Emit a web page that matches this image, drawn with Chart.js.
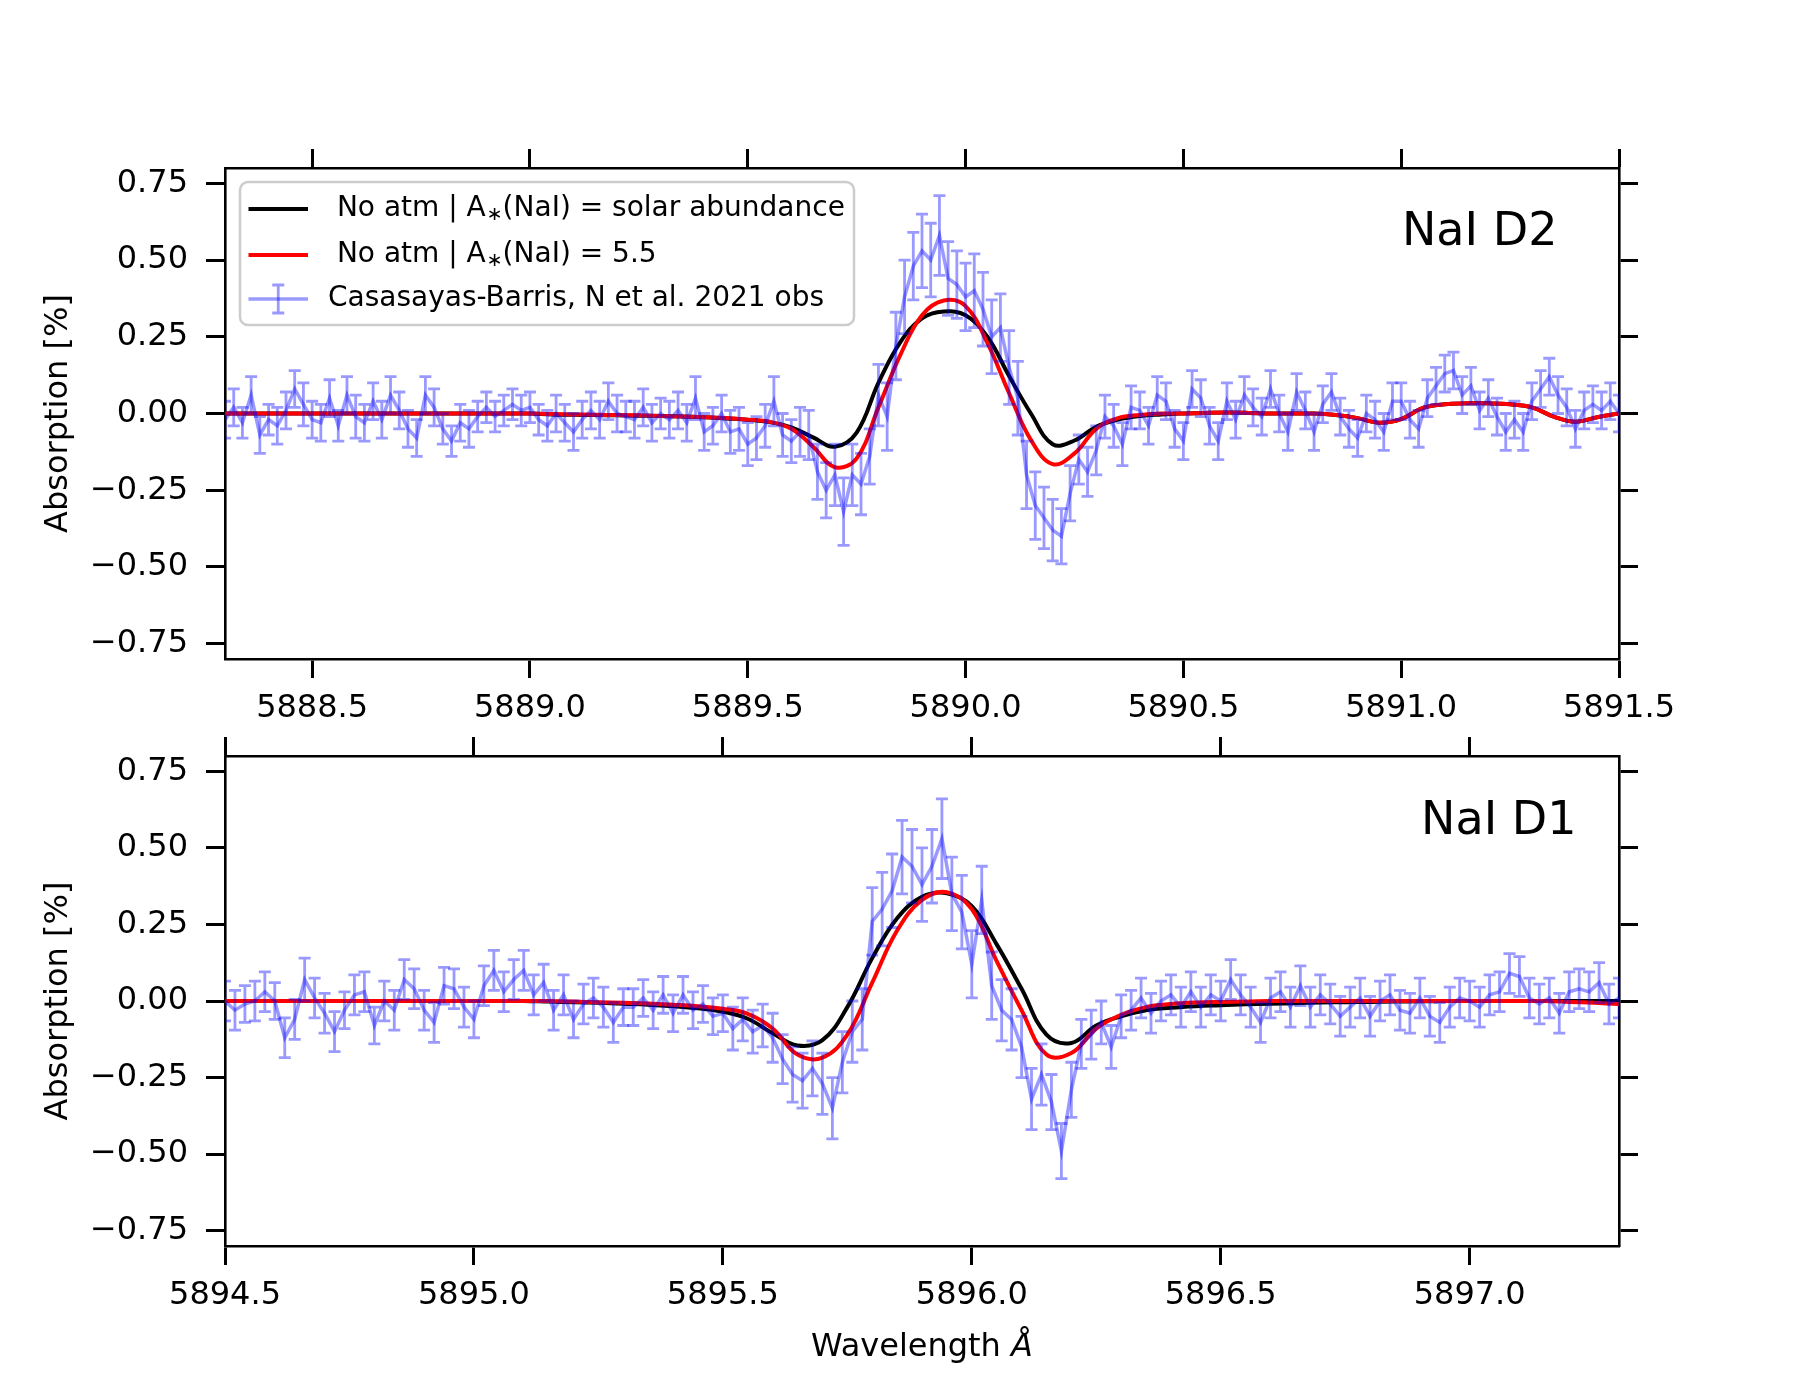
<!DOCTYPE html>
<html>
<head>
<meta charset="utf-8">
<script src="https://cdn.jsdelivr.net/npm/chart.js@4.4.1/dist/chart.umd.min.js"></script>
<style>
  html, body { margin: 0; padding: 0; background: #fff; }
  #wrap { position: relative; width: 1800px; height: 1400px; overflow: hidden; }
  canvas { position: absolute; left: 0; }
  #panelD2 { top: 0; }
  #panelD1 { top: 700px; }
</style>
</head>
<body>
<div id="wrap">
  <canvas id="panelD2" width="1800" height="760"></canvas>
  <canvas id="panelD1" width="1800" height="700"></canvas>
</div>
<script>
// NaI doublet transmission: observed spectrum vs. two no-atmosphere models

// ── Data ────────────────────────────────────────────────────────────
// observed points are on a 0.02 Å grid, the models on a 0.05 Å grid
const OBS_STEP = 0.02;
const MOD_STEP = 0.05;

// NaI D2 (top panel)
const d2Range = [5888.3, 5891.5];
const d2Start = 5888.30;
const d2Obs = [
  -0.02,  0.02, -0.03,  0.06, -0.07, -0.02, -0.04,  0.01,  0.08,  0.03,
  -0.02, -0.03,  0.05, -0.04,  0.06, -0.01, -0.03,  0.04, -0.02,  0.06,
   0.01, -0.05, -0.08,  0.06,  0.02, -0.05, -0.09, -0.03, -0.05, -0.01,
   0.02, -0.01,  0.01,  0.03,  0.01,  0.02, -0.02, -0.04,  0.00, -0.03,
  -0.06, -0.02,  0.01, -0.02,  0.04,  0.00, -0.01, -0.02,  0.02, -0.03,
   0.00, -0.02,  0.01, -0.03,  0.05, -0.06, -0.04,  0.00, -0.06, -0.05,
  -0.10, -0.08, -0.04,  0.04, -0.07, -0.09, -0.06, -0.07, -0.19, -0.25,
  -0.20, -0.32, -0.20, -0.23, -0.14,  0.06, -0.01,  0.22,  0.38,  0.48,
   0.53,  0.50,  0.58,  0.44,  0.42,  0.38,  0.40,  0.34,  0.25,  0.28,
   0.15,  0.05, -0.20, -0.30, -0.34, -0.38, -0.40, -0.26, -0.15, -0.19,
  -0.12, -0.01, -0.04, -0.10,  0.02,  0.01, -0.04,  0.06,  0.04, -0.05,
  -0.09,  0.08,  0.05, -0.04, -0.09,  0.04, -0.02,  0.06,  0.02, -0.01,
   0.08,  0.00, -0.06,  0.07,  0.01, -0.06,  0.03,  0.07, -0.01, -0.05,
  -0.08,  0.00, -0.02, -0.06,  0.04,  0.04, -0.02, -0.05,  0.05,  0.09,
   0.13,  0.14,  0.06,  0.09,  0.01,  0.05, -0.01, -0.06, -0.02, -0.06,
   0.04,  0.08,  0.12,  0.06,  0.02, -0.05,  0.01,  0.03,  0.01,  0.04,
   0.00
];
const d2Err = [
  0.06, 0.06, 0.05, 0.06, 0.06, 0.05, 0.06, 0.06, 0.06, 0.07,
  0.06, 0.06, 0.06, 0.05, 0.06, 0.07, 0.06, 0.06, 0.06, 0.06,
  0.06, 0.06, 0.06, 0.06, 0.06, 0.05, 0.05, 0.06, 0.06, 0.05,
  0.05, 0.05, 0.05, 0.05, 0.05, 0.05, 0.05, 0.05, 0.06, 0.06,
  0.06, 0.06, 0.06, 0.06, 0.06, 0.06, 0.05, 0.06, 0.06, 0.06,
  0.05, 0.06, 0.06, 0.06, 0.07, 0.06, 0.06, 0.06, 0.07, 0.07,
  0.07, 0.07, 0.07, 0.08, 0.07, 0.07, 0.08, 0.08, 0.09, 0.09,
  0.10, 0.11, 0.10, 0.10, 0.09, 0.10, 0.11, 0.11, 0.12, 0.11,
  0.12, 0.12, 0.13, 0.12, 0.11, 0.11, 0.12, 0.12, 0.12, 0.11,
  0.12, 0.12, 0.11, 0.11, 0.10, 0.10, 0.09, 0.09, 0.08, 0.08,
  0.08, 0.07, 0.07, 0.07, 0.07, 0.06, 0.06, 0.06, 0.06, 0.06,
  0.06, 0.06, 0.06, 0.06, 0.06, 0.06, 0.06, 0.06, 0.06, 0.06,
  0.06, 0.06, 0.06, 0.06, 0.06, 0.06, 0.06, 0.06, 0.06, 0.06,
  0.06, 0.06, 0.06, 0.06, 0.06, 0.06, 0.06, 0.06, 0.06, 0.06,
  0.06, 0.06, 0.06, 0.06, 0.06, 0.06, 0.06, 0.06, 0.06, 0.06,
  0.06, 0.06, 0.06, 0.06, 0.06, 0.06, 0.06, 0.06, 0.06, 0.06,
  0.06
];
const d2Solar = [
   0.000,  0.000,  0.000,  0.000,  0.000,  0.000,  0.000,  0.000,  0.000,  0.000,
   0.000,  0.000,  0.000,  0.000,  0.000, -0.003, -0.004, -0.005, -0.006, -0.007,
  -0.008, -0.010, -0.012, -0.016, -0.020, -0.028, -0.045, -0.078, -0.108, -0.062,
   0.100,  0.232,  0.310,  0.332,  0.320,  0.250,  0.122,  0.000, -0.100, -0.088,
  -0.043, -0.020, -0.008, -0.003,  0.000,  0.002,  0.003,  0.002,  0.000,  0.000,
   0.000, -0.005, -0.015, -0.030, -0.018,  0.018,  0.030,  0.033,  0.033,  0.030,
   0.020, -0.010, -0.027, -0.012,  0.000
];
const d2Na55 = [
   0.000,  0.000,  0.000,  0.000,  0.000,  0.000,  0.000,  0.000,  0.000,  0.000,
   0.000,  0.000,  0.000,  0.000,  0.000, -0.002, -0.003, -0.004, -0.005, -0.006,
  -0.008, -0.010, -0.012, -0.015, -0.020, -0.027, -0.050, -0.108, -0.175, -0.146,
   0.020,  0.190,  0.320,  0.368,  0.350,  0.230,  0.066, -0.086, -0.165, -0.130,
  -0.050, -0.015, -0.005,  0.000,  0.000,  0.002,  0.003,  0.002,  0.000,  0.000,
   0.000, -0.005, -0.015, -0.030, -0.018,  0.018,  0.030,  0.033,  0.033,  0.030,
   0.020, -0.010, -0.027, -0.012,  0.000
];

// NaI D1 (bottom panel)
const d1Range = [5894.5, 5897.3];
const d1Start = 5894.50;
const d1Obs = [
   0.00, -0.03, -0.01,  0.00,  0.03,  0.00, -0.12, -0.06,  0.07,  0.01,
  -0.04, -0.10, -0.03,  0.02,  0.03, -0.08,  0.00, -0.03,  0.07,  0.04,
  -0.03, -0.07,  0.05,  0.04, -0.02, -0.06,  0.05,  0.10,  0.03,  0.07,
   0.10,  0.02,  0.06, -0.03,  0.02, -0.06, -0.01,  0.01, -0.02, -0.07,
  -0.02, -0.02,  0.01, -0.03,  0.02, -0.04,  0.02, -0.03, -0.01, -0.05,
  -0.04, -0.09, -0.06, -0.10, -0.08, -0.12, -0.19, -0.24, -0.26, -0.22,
  -0.27, -0.35, -0.20, -0.10, -0.06,  0.26,  0.30,  0.36,  0.47,  0.44,
   0.38,  0.44,  0.53,  0.35,  0.29,  0.12,  0.33,  0.05, -0.03, -0.06,
  -0.15, -0.32, -0.24, -0.33, -0.49, -0.29, -0.14, -0.11, -0.07, -0.15,
  -0.05, -0.03,  0.01, -0.04,  0.00,  0.02, -0.02,  0.03, -0.02,  0.02,
   0.00,  0.07,  0.02, -0.02, -0.07,  0.01,  0.03, -0.02,  0.05, -0.02,
   0.02, -0.01, -0.05, -0.02,  0.01, -0.05,  0.00,  0.02, -0.03, -0.04,
   0.01, -0.05, -0.07, -0.02,  0.01,  0.00, -0.02,  0.02,  0.03,  0.09,
   0.08,  0.01, -0.01,  0.01, -0.04,  0.03,  0.04,  0.03,  0.06, -0.01,
   0.01
];
const d1Err = [
  0.065, 0.065, 0.06, 0.065, 0.065, 0.06, 0.065, 0.065, 0.07, 0.065,
  0.065, 0.065, 0.06, 0.065, 0.065, 0.06, 0.065, 0.065, 0.065, 0.065,
  0.065, 0.065, 0.06, 0.065, 0.065, 0.06, 0.065, 0.065, 0.065, 0.065,
  0.065, 0.065, 0.06, 0.065, 0.065, 0.06, 0.065, 0.065, 0.065, 0.065,
  0.06,  0.06,  0.06, 0.06,  0.06,  0.06, 0.06,  0.06,  0.06,  0.06,
  0.06,  0.07,  0.07, 0.07,  0.07,  0.08, 0.08,  0.09,  0.09,  0.09,
  0.10,  0.10,  0.10, 0.10,  0.10,  0.11, 0.12,  0.12,  0.12,  0.12,
  0.12,  0.12,  0.13, 0.12,  0.12,  0.11, 0.11,  0.11,  0.10,  0.10,
  0.10,  0.10,  0.10, 0.09,  0.09,  0.09, 0.08,  0.08,  0.07,  0.07,
  0.07,  0.065, 0.065, 0.065, 0.065, 0.065, 0.065, 0.065, 0.065, 0.065,
  0.065, 0.065, 0.065, 0.065, 0.065, 0.065, 0.065, 0.065, 0.065, 0.065,
  0.065, 0.065, 0.065, 0.065, 0.065, 0.065, 0.065, 0.065, 0.065, 0.065,
  0.065, 0.065, 0.065, 0.065, 0.065, 0.065, 0.065, 0.065, 0.065, 0.065,
  0.065, 0.065, 0.065, 0.065, 0.065, 0.065, 0.065, 0.065, 0.065, 0.065,
  0.065
];
const d1Solar = [
   0.000,  0.000,  0.000,  0.000,  0.000,  0.000,  0.000,  0.000,  0.000,  0.000,
   0.000,  0.000,  0.000, -0.002, -0.004, -0.006, -0.009, -0.012, -0.017, -0.024,
  -0.035, -0.058, -0.105, -0.145, -0.128, -0.020,  0.140,  0.270,  0.340,  0.352,
   0.310,  0.185,  0.040, -0.110, -0.137, -0.080, -0.050, -0.030, -0.022, -0.017,
  -0.014, -0.011, -0.009, -0.007, -0.005, -0.004, -0.003, -0.002, -0.001,  0.000,
   0.000,  0.000,  0.000,  0.000,  0.000,  0.000,  0.000
];
const d1Na55 = [
   0.000,  0.000,  0.000,  0.000,  0.000,  0.000,  0.000,  0.000,  0.000,  0.000,
   0.000,  0.000,  0.000,  0.000, -0.002, -0.004, -0.006, -0.008, -0.012, -0.017,
  -0.025, -0.042, -0.090, -0.175, -0.185, -0.110,  0.060,  0.230,  0.330,  0.355,
   0.300,  0.130, -0.030, -0.175, -0.170, -0.090, -0.045, -0.020, -0.010, -0.005,
  -0.003, -0.002,  0.000,  0.000,  0.000,  0.000,  0.000,  0.000,  0.000,  0.000,
   0.000,  0.000,  0.000,  0.000, -0.003, -0.006, -0.010
];

const yTicks = [-0.75, -0.5, -0.25, 0, 0.25, 0.5, 0.75];
const LABELS = [
  ' No atm | A', '(NaI) = solar abundance',
  ' No atm | A', '(NaI) = 5.5',
  'Casasayas-Barris, N et al. 2021 obs'
];

// ── Style ───────────────────────────────────────────────────────────
const FONT      = 'DejaVu Sans';
const OBS_COLOR = 'rgba(0, 0, 255, 0.4)';
const SOLAR_COL = '#000000';
const NA55_COL  = '#ff0000';
const CAP       = 6;

Chart.defaults.font.family = FONT;
Chart.defaults.font.size = 32;
Chart.defaults.color = '#000';

function toPoints(start, step, values) {
  return values.map((v, i) => ({ x: Math.round((start + i * step) * 1000) / 1000, y: v }));
}

// ── Plugins ─────────────────────────────────────────────────────────
const errorBars = {
  id: 'errorBars',
  afterDatasetsDraw(chart) {
    const { ctx, chartArea: a, scales } = chart;
    ctx.save();
    ctx.beginPath();
    ctx.rect(a.left, a.top, a.right - a.left, a.bottom - a.top);
    ctx.clip();
    ctx.strokeStyle = OBS_COLOR;
    ctx.lineWidth = 2.8;
    chart.data.datasets.forEach(ds => {
      if (!ds.errors) return;
      ds.data.forEach((p, i) => {
        const px  = scales.x.getPixelForValue(p.x);
        const top = scales.y.getPixelForValue(p.y + ds.errors[i]);
        const bot = scales.y.getPixelForValue(p.y - ds.errors[i]);
        ctx.beginPath();
        ctx.moveTo(px, top); ctx.lineTo(px, bot);
        ctx.moveTo(px - CAP, top); ctx.lineTo(px + CAP, top);
        ctx.moveTo(px - CAP, bot); ctx.lineTo(px + CAP, bot);
        ctx.stroke();
      });
    });
    ctx.restore();
  }
};

function seg(ctx, x0, y0, x1, y1) {
  ctx.beginPath(); ctx.moveTo(x0, y0); ctx.lineTo(x1, y1); ctx.stroke();
}

function abundLabel(ctx, x, y, head, tail) {
  ctx.font = '28px "' + FONT + '"';
  ctx.fillText(head, x, y);
  const w1 = ctx.measureText(head).width;
  ctx.font = '19px "' + FONT + '"';
  ctx.fillText('\u2217', x + w1 + 1, y + 6);
  const w2 = ctx.measureText('\u2217').width;
  ctx.font = '28px "' + FONT + '"';
  ctx.fillText(tail, x + w1 + w2 + 1, y);
}

function drawLegend(ctx, a) {
  const bx = a.left + 15, by = a.top + 14, bw = 614, bh = 143, r = 8;
  ctx.beginPath();
  ctx.moveTo(bx + r, by);
  ctx.arcTo(bx + bw, by, bx + bw, by + bh, r);
  ctx.arcTo(bx + bw, by + bh, bx, by + bh, r);
  ctx.arcTo(bx, by + bh, bx, by, r);
  ctx.arcTo(bx, by, bx + bw, by, r);
  ctx.closePath();
  ctx.fillStyle = 'rgba(255,255,255,0.8)';
  ctx.fill();
  ctx.strokeStyle = '#cccccc';
  ctx.lineWidth = 2.5;
  ctx.stroke();

  const rows = [a.top + 41, a.top + 87, a.top + 131];
  const hx0 = a.left + 23.5, hx1 = a.left + 83, hxc = (hx0 + hx1) / 2;
  const tx = a.left + 103;

  ctx.lineWidth = 4;
  ctx.strokeStyle = SOLAR_COL; seg(ctx, hx0, rows[0], hx1, rows[0]);
  ctx.strokeStyle = NA55_COL;  seg(ctx, hx0, rows[1], hx1, rows[1]);
  ctx.strokeStyle = OBS_COLOR; ctx.lineWidth = 3.5; seg(ctx, hx0, rows[2], hx1, rows[2]);
  ctx.lineWidth = 2.8;
  ctx.beginPath();
  ctx.moveTo(hxc, rows[2] - 14); ctx.lineTo(hxc, rows[2] + 14);
  ctx.moveTo(hxc - CAP, rows[2] - 14); ctx.lineTo(hxc + CAP, rows[2] - 14);
  ctx.moveTo(hxc - CAP, rows[2] + 14); ctx.lineTo(hxc + CAP, rows[2] + 14);
  ctx.stroke();

  ctx.fillStyle = '#000';
  ctx.textAlign = 'left';
  ctx.textBaseline = 'middle';
  abundLabel(ctx, tx, rows[0], LABELS[0], LABELS[1]);
  abundLabel(ctx, tx, rows[1], LABELS[2], LABELS[3]);
  ctx.font = '28px "' + FONT + '"';
  ctx.fillText(LABELS[4], tx, rows[2]);
}

const decor = {
  id: 'decor',
  afterDraw(chart, args, opts) {
    const { ctx, chartArea: a } = chart;
    ctx.save();
    ctx.fillStyle = '#000';
    ctx.textAlign = 'left';
    ctx.textBaseline = 'alphabetic';
    ctx.font = '46px "' + FONT + '"';
    ctx.fillText(opts.label, a.left + opts.labelX * (a.right - a.left), a.top + opts.labelDy);

    if (opts.xTitle) {
      const main = 'Wavelength ', unit = '\u00C5';
      ctx.font = '32px "' + FONT + '"';
      const w1 = ctx.measureText(main).width;
      ctx.font = 'italic 32px "' + FONT + '"';
      const w2 = ctx.measureText(unit).width;
      const x0 = (a.left + a.right) / 2 - (w1 + w2) / 2;
      const yy = a.bottom + 102;
      ctx.textBaseline = 'middle';
      ctx.font = '32px "' + FONT + '"';
      ctx.fillText(main, x0, yy);
      ctx.font = 'italic 32px "' + FONT + '"';
      ctx.fillText(unit, x0 + w1, yy);
    }
    if (opts.legend) drawLegend(ctx, a);
    ctx.restore();
  }
};

// ── Axes ────────────────────────────────────────────────────────────
const TICKMARKS = { display: true, drawOnChartArea: false, drawTicks: true,
                    tickLength: 19, tickWidth: 3, tickColor: '#000' };
const FRAME = { display: true, color: '#000', width: 2.6 };

function yLabel(v) {
  if (Math.abs(v) < 1e-9) return '0.00';
  return (v < 0 ? '\u2212' : '') + Math.abs(v).toFixed(2);
}

function makeScales(range, xHeight) {
  return {
    x: {
      type: 'linear', position: 'bottom', min: range[0], max: range[1],
      grid: TICKMARKS, border: FRAME,
      ticks: { stepSize: 0.5, includeBounds: false, padding: 11, maxRotation: 0,
               autoSkip: false, color: '#000', font: { size: 32 },
               callback: v => v.toFixed(1) },
      afterFit: s => { s.height = xHeight; }
    },
    x2: {
      type: 'linear', position: 'top', min: range[0], max: range[1],
      grid: TICKMARKS, border: FRAME,
      ticks: { display: false, stepSize: 0.5, includeBounds: false },
      afterFit: s => { s.height = 30; }
    },
    y: {
      type: 'linear', position: 'left', min: -0.8, max: 0.8,
      grid: TICKMARKS, border: FRAME,
      afterBuildTicks: s => { s.ticks = yTicks.map(v => ({ value: v })); },
      ticks: { padding: 18, color: '#000', font: { size: 32 }, callback: yLabel },
      title: { display: true, text: 'Absorption [%]', color: '#000',
               font: { size: 32 }, padding: { top: 39, bottom: 0 } },
      afterFit: s => { s.width = 225; }
    },
    y2: {
      type: 'linear', position: 'right', min: -0.8, max: 0.8,
      grid: TICKMARKS, border: FRAME,
      afterBuildTicks: s => { s.ticks = yTicks.map(v => ({ value: v })); },
      ticks: { display: false },
      afterFit: s => { s.width = 30; }
    }
  };
}

function makePanel(canvasId, p) {
  return new Chart(document.getElementById(canvasId), {
    type: 'line',
    data: {
      datasets: [
        { label: LABELS[4], data: toPoints(p.start, OBS_STEP, p.obs), errors: p.err,
          borderColor: OBS_COLOR, borderWidth: 3.5, pointRadius: 0, tension: 0,
          xAxisID: 'x', yAxisID: 'y' },
        { label: 'A(NaI) = 5.5', data: toPoints(p.start, MOD_STEP, p.na55),
          borderColor: NA55_COL, borderWidth: 4, pointRadius: 0, tension: 0.4,
          xAxisID: 'x', yAxisID: 'y' },
        { label: 'A(NaI) = solar', data: toPoints(p.start, MOD_STEP, p.solar),
          borderColor: SOLAR_COL, borderWidth: 4, pointRadius: 0, tension: 0.4,
          xAxisID: 'x', yAxisID: 'y' }
      ]
    },
    options: {
      responsive: false,
      animation: false,
      devicePixelRatio: 1,
      layout: { padding: p.padding },
      scales: makeScales(p.range, p.xHeight),
      plugins: {
        legend: { display: false },
        tooltip: { enabled: false },
        decor: p.decor
      }
    },
    plugins: [errorBars, decor]
  });
}

makePanel('panelD2', {
  start: d2Start, range: d2Range, obs: d2Obs, err: d2Err, solar: d2Solar, na55: d2Na55,
  padding: { left: 0, right: 151, top: 138, bottom: 0 }, xHeight: 101,
  decor: { label: 'NaI D2', labelX: 0.8443, labelDy: 77, legend: true, xTitle: false }
});

makePanel('panelD1', {
  start: d1Start, range: d1Range, obs: d1Obs, err: d1Err, solar: d1Solar, na55: d1Na55,
  padding: { left: 0, right: 151, top: 26, bottom: 0 }, xHeight: 154,
  decor: { label: 'NaI D1', labelX: 0.858, labelDy: 78, legend: false, xTitle: true }
});
</script>
</body>
</html>
